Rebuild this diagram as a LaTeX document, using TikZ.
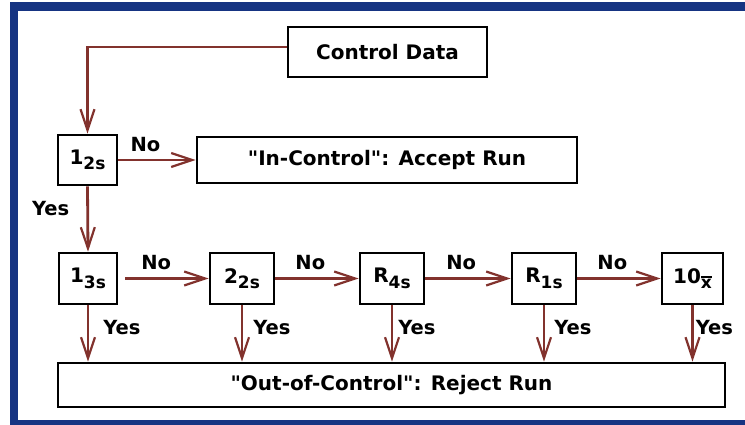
\documentclass[tikz,border=0pt]{standalone}
\usepackage{fontspec}
\setmainfont{DejaVu Sans}[Ligatures=TeXOff]
\usetikzlibrary{arrows.meta}
\definecolor{arrc}{RGB}{130,50,45}
\definecolor{frameblue}{RGB}{22,52,130}
\newcommand\boxsub[2]{#1\raisebox{-5.5pt}{\fontsize{17}{17}\selectfont #2}}
\newcommand\xbar{\setbox0\hbox{x}\rlap{\rule[\dimexpr\ht0+1.5pt\relax]{\wd0}{1.6pt}}\box0}
\begin{document}
\begin{tikzpicture}[x=1pt,y=-1pt,
  box/.style={draw=black,line width=2.6pt,fill=white,minimum height=50pt,inner sep=0pt,font=\bfseries\fontsize{20}{20}\selectfont},
  sbox/.style={box,font=\bfseries\fontsize{20}{20}\selectfont},
  arr/.style={draw=arrc,line width=2.8pt,-{Straight Barb[length=21pt,width=14pt,line width=2.2pt]}},
  lbl/.style={font=\bfseries\fontsize{19.5}{20}\selectfont,inner sep=1pt,text=black}]
\useasboundingbox (0,0) rectangle (745,425);
\fill[white] (0,0) rectangle (745,425);
\fill[frameblue] (10,2) rectangle (745,11);
\fill[frameblue] (10,2) rectangle (18,425);
\fill[frameblue] (10,420) rectangle (745,425);

\node[box,minimum width=199pt] (cd) at (387.5,52) {Control Data};
\node[sbox,minimum width=59pt] (n12) at (87.5,160) {\boxsub{1}{2s}};
\node[box,minimum width=380pt,minimum height=46pt] (inc) at (387,160) {"In-Control": Accept Run};

\node[sbox,minimum width=58pt,minimum height=51pt] (n13) at (88,278.5) {\boxsub{1}{3s}};
\node[sbox,minimum width=64pt,minimum height=51pt] (n22) at (242,278.5) {\boxsub{2}{2s}};
\node[sbox,minimum width=64pt,minimum height=51pt] (r4s) at (392,278.5) {\boxsub{R}{4s}};
\node[sbox,minimum width=64pt,minimum height=51pt] (r1s) at (544,278.5) {\boxsub{R}{1s}};
\node[sbox,minimum width=61pt,minimum height=51pt] (n10) at (692.5,278.5) {\boxsub{10}{\xbar}};

\node[box,minimum width=667pt,minimum height=44pt] (out) at (391.5,385) {"Out-of-Control": Reject Run};

\draw[arr] ([yshift=5pt]cd.west) -| (n12.north);
\draw[arr] (n12.east) -- node[lbl,above=6pt,pos=0.35] {No} (inc.west);
\draw[arr] (n12.south) -- node[lbl,left=16pt,pos=0.34] {Yes} (n13.north);

\draw[arr,shorten <=7pt] (n13) -- node[lbl,above=6pt,pos=0.42] {No} (n22);
\draw[arr] (n22) -- node[lbl,above=6pt,pos=0.42] {No} (r4s);
\draw[arr] (r4s) -- node[lbl,above=6pt,pos=0.42] {No} (r1s);
\draw[arr] (r1s) -- node[lbl,above=6pt,pos=0.42] {No} (n10);

\foreach \n/\g in {n13/13,n22/9,r4s/4,r1s/8,n10/1}{
  \draw[arr] (\n.south) -- node[lbl,right=\g pt,pos=0.4] {Yes} (\n.south |- out.north);
}
\end{tikzpicture}
\end{document}
